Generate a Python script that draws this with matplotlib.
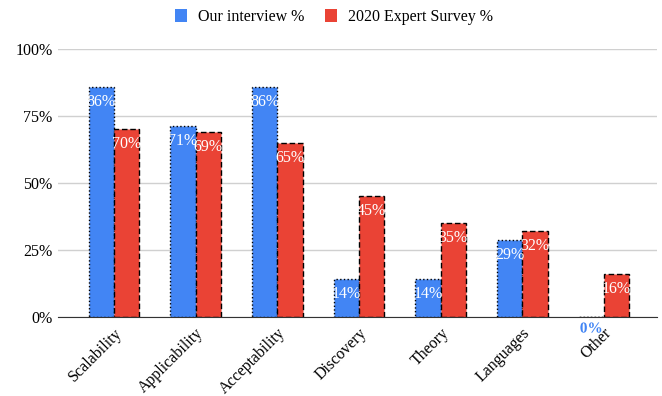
import matplotlib.pyplot as plt
import matplotlib.patheffects as pe
import numpy as np

plt.rcParams['font.family'] = ['Liberation Serif', 'DejaVu Serif']

categories = ['Scalability', 'Applicability', 'Acceptability', 'Discovery',
              'Theory', 'Languages', 'Other']
interview = [85.7, 71.4, 85.7, 14.3, 14.3, 28.6, 0.0]
survey = [70, 69, 65, 45, 35, 32, 16]
series_names = ['Our interview %', '2020 Expert Survey %']

blue = '#4285f4'
red = '#ea4335'

fig = plt.figure(figsize=(6.62, 3.96), dpi=100)
ax = fig.add_axes([58 / 662, 1 - 317 / 396, (657 - 58) / 662, (317 - 49) / 396])

x = np.arange(len(categories))
w = 0.31
b1 = ax.bar(x - w / 2, interview, w, color=blue, edgecolor='black',
            linestyle=':', linewidth=1.0, label=series_names[0], zorder=3)
b2 = ax.bar(x + w / 2, survey, w, color=red, edgecolor='black',
            linestyle=(0, (4, 2)), linewidth=1.0, label=series_names[1], zorder=3)

# data labels
for bars, vals in ((b1, interview), (b2, survey)):
    for r, v in zip(bars, vals):
        cx = r.get_x() + r.get_width() / 2
        txt = f'{round(v)}%'
        if v <= 0:
            ax.annotate(txt, (cx, 0), xytext=(0, -4), textcoords='offset points',
                        ha='center', va='top', fontsize=11, color=blue,
                        fontweight='bold', annotation_clip=False,
                        path_effects=[pe.withStroke(linewidth=2, foreground='white')],
                        zorder=5)
        else:
            ax.annotate(txt, (cx, v), xytext=(0, -5), textcoords='offset points',
                        ha='center', va='top', fontsize=11.5, color='white', zorder=5)

ax.set_xlim(-0.685, 6.65)
ax.set_ylim(0, 100)
ax.set_yticks([0, 25, 50, 75, 100])
ax.set_yticklabels(['0%', '25%', '50%', '75%', '100%'], fontsize=11.5)
ax.yaxis.grid(True, color='#d0d0d0', linewidth=1, zorder=0)
ax.set_axisbelow(True)
ax.set_xticks(x)
ax.set_xticklabels(categories, rotation=45, ha='right', rotation_mode='anchor', fontsize=11.5)
ax.tick_params(axis='y', length=0, pad=4)
ax.tick_params(axis='x', length=0, pad=6)
for s in ['top', 'right', 'left']:
    ax.spines[s].set_visible(False)
ax.spines['bottom'].set_color('#333333')
ax.spines['bottom'].set_zorder(4)

ax.legend(loc='center', bbox_to_anchor=(334 / 662, 1 - 17 / 396),
          bbox_transform=fig.transFigure, ncol=2, frameon=False,
          fontsize=11.5, handlelength=0.75, handleheight=0.9, columnspacing=1.3,
          handletextpad=0.7)
leg = ax.get_legend()
for h in leg.legend_handles:
    h.set_edgecolor('none')

fig.savefig('out.png', dpi=100)
